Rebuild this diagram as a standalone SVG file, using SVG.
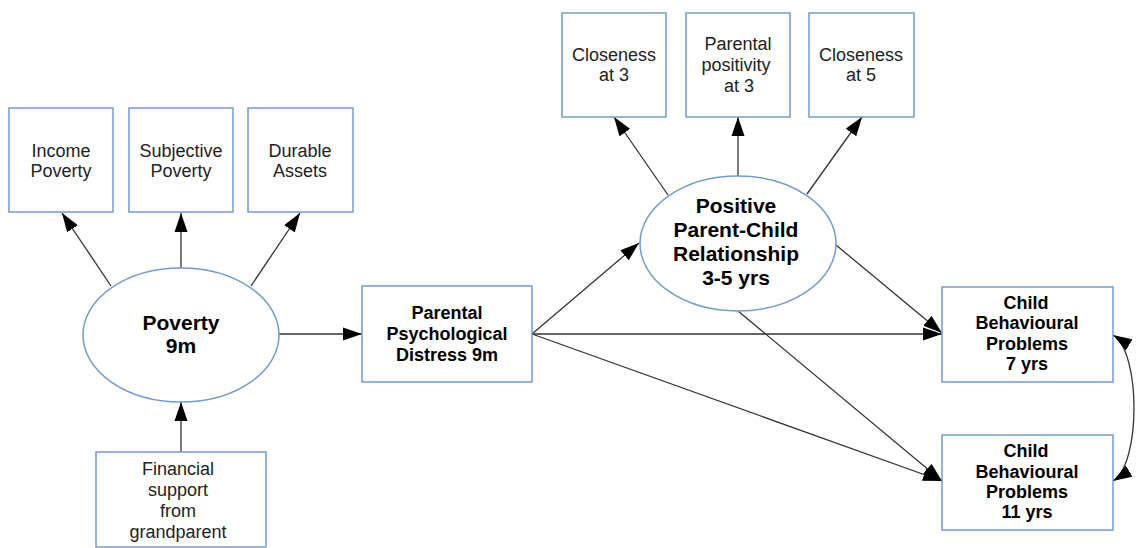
<svg xmlns="http://www.w3.org/2000/svg" width="1138" height="548" viewBox="0 0 1138 548">
<style>
.box{fill:#fff;stroke:#729ccf;stroke-width:1.5}
.ell{fill:#fff;stroke:#729ccf;stroke-width:1.5}
.t{font-family:"Liberation Sans",Arial,sans-serif;font-size:18px;fill:#222;text-anchor:middle}
.b{font-family:"Liberation Sans",Arial,sans-serif;font-size:18px;font-weight:bold;fill:#000;text-anchor:middle}
.bl{font-size:21px}
.c{fill:none;stroke:#333;stroke-width:1.3}
</style>
<defs>
<marker id="ah" markerUnits="userSpaceOnUse" markerWidth="20" markerHeight="14" refX="19" refY="7" orient="auto-start-reverse" viewBox="0 0 20 14">
<path d="M0,0.5 L19,7 L0,13.5 z" fill="#000"/>
</marker>
</defs>
<g id="connectors">
<line class="c" x1="111" y1="286" x2="62" y2="213" marker-end="url(#ah)"/>
<line class="c" x1="181" y1="268" x2="181" y2="213" marker-end="url(#ah)"/>
<line class="c" x1="251" y1="286" x2="300" y2="213" marker-end="url(#ah)"/>
<line class="c" x1="181" y1="452" x2="181" y2="402" marker-end="url(#ah)"/>
<line class="c" x1="279" y1="334" x2="362" y2="334" marker-end="url(#ah)"/>
<line class="c" x1="532" y1="334" x2="639" y2="243" marker-end="url(#ah)"/>
<line class="c" x1="532" y1="334" x2="942" y2="334" marker-end="url(#ah)"/>
<line class="c" x1="532" y1="334" x2="942" y2="481" marker-end="url(#ah)"/>
<line class="c" x1="668" y1="195" x2="614" y2="117" marker-end="url(#ah)"/>
<line class="c" x1="738" y1="176" x2="738" y2="117" marker-end="url(#ah)"/>
<line class="c" x1="807" y1="194" x2="862" y2="117" marker-end="url(#ah)"/>
<line class="c" x1="836" y1="245" x2="942" y2="333" marker-end="url(#ah)"/>
<line class="c" x1="738" y1="311" x2="942" y2="481" marker-end="url(#ah)"/>
<path class="c" d="M1113,335 C1141,352 1141,464 1113,481" marker-start="url(#ah)" marker-end="url(#ah)"/>
</g>
<g id="income-poverty">
<rect class="box" x="9" y="108" width="104" height="104"/>
<text class="t" x="61" y="157">Income</text>
<text class="t" x="61" y="177">Poverty</text>
</g>
<g id="subjective-poverty">
<rect class="box" x="129" y="108" width="104" height="104"/>
<text class="t" x="181" y="157">Subjective</text>
<text class="t" x="181" y="177">Poverty</text>
</g>
<g id="durable-assets">
<rect class="box" x="248" y="108" width="105" height="104"/>
<text class="t" x="300" y="157">Durable</text>
<text class="t" x="300" y="177">Assets</text>
</g>
<g id="poverty">
<ellipse class="ell" cx="181" cy="335" rx="98" ry="67"/>
<text class="b bl" x="181" y="330">Poverty</text>
<text class="b bl" x="181" y="353">9m</text>
</g>
<g id="financial-support">
<rect class="box" x="96" y="452" width="170" height="95"/>
<text class="t" x="178" y="475">Financial</text>
<text class="t" x="178" y="496">support</text>
<text class="t" x="178" y="517">from</text>
<text class="t" x="178" y="538">grandparent</text>
</g>
<g id="parental-distress">
<rect class="box" x="362" y="286" width="170" height="96"/>
<text class="b" x="447" y="319">Parental</text>
<text class="b" x="447" y="340">Psychological</text>
<text class="b" x="447" y="361">Distress 9m</text>
</g>
<g id="closeness-3">
<rect class="box" x="562" y="13" width="104" height="104"/>
<text class="t" x="614" y="61">Closeness</text>
<text class="t" x="614" y="81">at 3</text>
</g>
<g id="parental-positivity">
<rect class="box" x="686" y="13" width="104" height="104"/>
<text class="t" x="738" y="50">Parental</text>
<text class="t" x="736" y="71">positivity</text>
<text class="t" x="739" y="92">at 3</text>
</g>
<g id="closeness-5">
<rect class="box" x="809" y="13" width="105" height="104"/>
<text class="t" x="861" y="61">Closeness</text>
<text class="t" x="861" y="81">at 5</text>
</g>
<g id="parent-child-relationship">
<ellipse class="ell" cx="738" cy="243.5" rx="98" ry="67.5"/>
<text class="b bl" x="736" y="213">Positive</text>
<text class="b bl" x="736" y="237">Parent-Child</text>
<text class="b bl" x="736" y="261">Relationship</text>
<text class="b bl" x="736" y="285">3-5 yrs</text>
</g>
<g id="child-7">
<rect class="box" x="942" y="287" width="171" height="95"/>
<text class="b" x="1026" y="309">Child</text>
<text class="b" x="1027" y="329">Behavioural</text>
<text class="b" x="1027" y="350">Problems</text>
<text class="b" x="1027" y="370">7 yrs</text>
</g>
<g id="child-11">
<rect class="box" x="942" y="435" width="171" height="95"/>
<text class="b" x="1026" y="457">Child</text>
<text class="b" x="1027" y="478">Behavioural</text>
<text class="b" x="1027" y="498">Problems</text>
<text class="b" x="1027" y="518">11 yrs</text>
</g>
</svg>
